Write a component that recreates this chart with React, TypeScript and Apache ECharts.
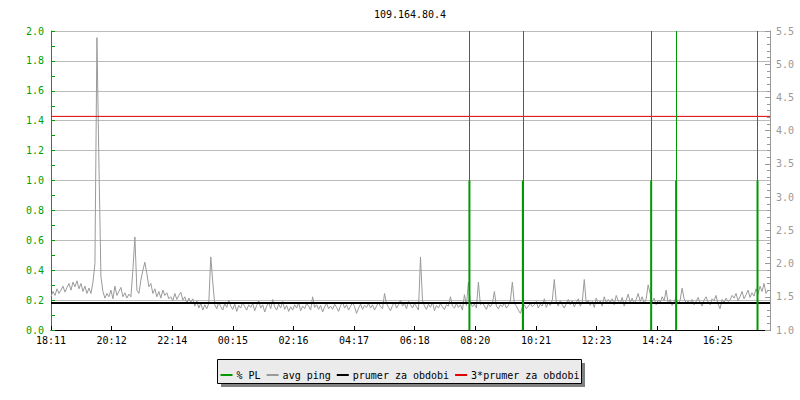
import React, { useEffect, useRef } from "react";
import * as echarts from "echarts";

const titleText = "109.164.80.4";
const timeLabels = ["18:11", "20:12", "22:14", "00:15", "02:16", "04:17", "06:18", "08:20", "10:21", "12:23", "14:24", "16:25"];
const tickStepMin = 121.4;
const spanMin = 1440;
const sampleStepMin = 4;

// avg ping (right axis), one sample every 4 minutes starting at 18:11
const pingValues = [
  1.50, 1.58, 1.52, 1.62, 1.55, 1.60, 1.66, 1.57, 1.64, 1.70, 1.60, 1.72, 1.65, 1.74, 1.62, 1.70, 1.58, 1.66, 1.55, 1.63,
  1.55, 1.72, 2.00, 5.40, 3.50, 1.80, 1.58, 1.48, 1.55, 1.50, 1.60, 1.47, 1.66, 1.52, 1.58, 1.64, 1.50, 1.56, 1.48, 1.54,
  1.50, 1.90, 2.40, 1.60, 1.55, 1.75, 1.90, 2.02, 1.85, 1.65, 1.70, 1.55, 1.62, 1.50, 1.58, 1.48, 1.60, 1.52, 1.56, 1.47,
  1.50, 1.44, 1.55, 1.46, 1.52, 1.57, 1.45, 1.50, 1.40, 1.48, 1.42, 1.47, 1.36, 1.44, 1.33, 1.40, 1.30, 1.38, 1.32, 1.40,
  2.10, 1.72, 1.38, 1.32, 1.42, 1.35, 1.30, 1.40, 1.34, 1.45, 1.36, 1.31, 1.39, 1.28, 1.37, 1.33, 1.42, 1.35, 1.30, 1.38,
  1.34, 1.40, 1.29, 1.37, 1.44, 1.33, 1.38, 1.27, 1.36, 1.41, 1.32, 1.46, 1.35, 1.30, 1.39, 1.33, 1.43, 1.31, 1.37, 1.28,
  1.35, 1.30, 1.38, 1.33, 1.41, 1.29, 1.36, 1.32, 1.40, 1.36, 1.30, 1.50, 1.34, 1.38, 1.31, 1.37, 1.27, 1.35, 1.40, 1.32,
  1.36, 1.31, 1.39, 1.34, 1.28, 1.37, 1.42, 1.33, 1.38, 1.30, 1.36, 1.41, 1.35, 1.25, 1.33, 1.39, 1.31, 1.37, 1.34, 1.40,
  1.33, 1.38, 1.30, 1.36, 1.42, 1.35, 1.32, 1.55, 1.40, 1.34, 1.29, 1.37, 1.42, 1.33, 1.38, 1.45, 1.36, 1.40, 1.32, 1.43,
  1.38, 1.33, 1.40, 1.35, 1.30, 2.10, 1.45, 1.36, 1.31, 1.39, 1.34, 1.42, 1.29, 1.37, 1.33, 1.40, 1.35, 1.31, 1.38, 1.36,
  1.50, 1.36, 1.33, 1.40, 1.34, 1.38, 1.30, 1.53, 1.37, 1.72, 1.41, 1.35, 1.39, 1.33, 1.72, 1.38, 1.42, 1.36, 1.31, 1.39,
  1.35, 1.40, 1.58, 1.36, 1.32, 1.38, 1.35, 1.41, 1.33, 1.37, 1.44, 1.72, 1.40, 1.36, 1.30, 1.25, 1.34, 1.38, 1.32, 1.36,
  1.40, 1.35, 1.38, 1.43, 1.33, 1.39, 1.36, 1.47, 1.34, 1.41, 1.37, 1.45, 1.76, 1.42, 1.36, 1.44, 1.38, 1.33, 1.40, 1.46,
  1.38, 1.44, 1.35, 1.41, 1.47, 1.36, 1.42, 1.76, 1.40, 1.45, 1.37, 1.43, 1.34, 1.48, 1.39, 1.44, 1.36, 1.50, 1.41, 1.46,
  1.42, 1.47, 1.38, 1.52, 1.44, 1.40, 1.49, 1.36, 1.45, 1.54, 1.41, 1.48, 1.39, 1.46, 1.55, 1.43, 1.50, 1.40, 1.47, 1.68,
  1.55, 1.42, 1.48, 1.38, 1.45, 1.41, 1.50, 1.44, 1.60, 1.40, 1.46, 1.37, 1.43, 1.49, 1.39, 1.45, 1.63, 1.47, 1.41, 1.44,
  1.40, 1.46, 1.38, 1.43, 1.49, 1.41, 1.36, 1.45, 1.50, 1.42, 1.38, 1.47, 1.44, 1.52, 1.39, 1.32, 1.46, 1.41, 1.48, 1.43,
  1.45, 1.52, 1.48, 1.55, 1.44, 1.50, 1.58, 1.47, 1.53, 1.60, 1.49, 1.56, 1.51, 1.62, 1.54, 1.66, 1.58, 1.70, 1.55, 1.60,
];

// packet loss events (minutes after 18:11) and values (left axis)
const plMinutes = [838, 945, 1202, 1252, 1415];
const plValues = [1.0, 1.0, 1.0, 1.0, 1.0];

const prumerValue = 1.405;
const prumer3Value = 4.215;

const legendNames = ["% PL", "avg ping", "prumer za obdobi", "3*prumer za obdobi"];

const FONT = "DejaVu Sans Mono";
const GREEN = "#00a000";
const PL_GREEN = "#009900";
const GREY = "#9a9a9a";

export default function App() {
  const ref = useRef<HTMLDivElement>(null);

  useEffect(() => {
    if (!ref.current) return;
    const chart = echarts.init(ref.current, undefined, { renderer: "svg" });

    const pingData = pingValues.map((v, i) => [i * sampleStepMin, v]);
    const plData = plMinutes.map((m, i) => [m, plValues[i]]);

    const option: any = {
      animation: false,
      backgroundColor: "#ffffff",
      grid: { left: 51, right: 30, top: 31, bottom: 70, containLabel: false },
      graphic: [
        {
          type: "text",
          x: 410,
          y: 14,
          style: {
            text: titleText,
            align: "center",
            verticalAlign: "middle",
            fontFamily: FONT,
            fontSize: 10,
            fill: "#000",
          },
        },
        {
          type: "rect",
          z: 1,
          shape: { x: 221, y: 363, width: 364, height: 24 },
          style: { fill: "#808080" },
        },
        {
          type: "rect",
          z: 2,
          shape: { x: 217.5, y: 359.5, width: 364, height: 24 },
          style: { fill: "#ebebeb", stroke: "#000", lineWidth: 1 },
        },
      ],
      legend: {
        data: legendNames,
        left: "center",
        top: 365,
        icon: "rect",
        itemWidth: 12,
        itemHeight: 2,
        itemGap: 6,
        selectedMode: false,
        z: 10,
        textStyle: { fontFamily: FONT, fontSize: 10, color: "#000", padding: [0, 0, 0, -1] },
      },
      xAxis: {
        type: "value",
        min: 0,
        max: spanMin,
        interval: tickStepMin,
        axisLine: { show: true, lineStyle: { color: "#000", width: 1 } },
        axisTick: { show: true, inside: true, length: 4, lineStyle: { color: "#000" } },
        axisLabel: {
          color: "#000",
          fontFamily: FONT,
          fontSize: 10,
          margin: 5,
          showMaxLabel: false,
          formatter: (v: number) => {
            const k = Math.round(v / tickStepMin);
            if (Math.abs(k * tickStepMin - v) > 0.01) return "";
            return timeLabels[k] ?? "";
          },
        },
        splitLine: { show: false },
      },
      yAxis: [
        {
          type: "value",
          position: "left",
          min: 0,
          max: 2,
          interval: 0.2,
          axisLine: { show: true, lineStyle: { color: GREEN, width: 1 } },
          axisTick: { show: true, inside: true, length: 4, lineStyle: { color: GREEN } },
          minorTick: { show: true, splitNumber: 2, length: 4, lineStyle: { color: GREEN } },
          axisLabel: {
            color: GREEN,
            fontFamily: FONT,
            fontSize: 10,
            margin: 7,
            formatter: (v: number) => v.toFixed(1),
          },
          splitLine: { show: true, lineStyle: { color: "#bbbbbb", width: 1 } },
        },
        {
          type: "value",
          position: "right",
          min: 1,
          max: 5.5,
          interval: 0.5,
          axisLine: { show: true, lineStyle: { color: "#999999", width: 1 } },
          axisTick: { show: true, inside: true, length: 5, lineStyle: { color: "#999999" } },
          minorTick: { show: true, splitNumber: 5, length: 3, lineStyle: { color: "#999999" } },
          axisLabel: {
            color: "#999999",
            fontFamily: FONT,
            fontSize: 10,
            margin: 6,
            formatter: (v: number) => v.toFixed(1),
          },
          splitLine: { show: false },
        },
      ],
      series: [
        {
          name: "% PL",
          type: "bar",
          xAxisIndex: 0,
          yAxisIndex: 0,
          data: plData,
          barWidth: 2,
          z: 6,
          itemStyle: { color: PL_GREEN },
          markLine: {
            silent: true,
            symbol: ["none", "none"],
            label: { show: false },
            lineStyle: { color: PL_GREEN, width: 1, type: "solid" },
            data: plMinutes.map((m) => ({ xAxis: m })),
          },
        },
        {
          name: "avg ping",
          type: "line",
          yAxisIndex: 1,
          data: pingData,
          showSymbol: false,
          symbol: "none",
          z: 2,
          lineStyle: { color: GREY, width: 1 },
          itemStyle: { color: GREY },
        },
        {
          name: "prumer za obdobi",
          type: "line",
          yAxisIndex: 1,
          data: [
            [0, prumerValue],
            [spanMin, prumerValue],
          ],
          showSymbol: false,
          symbol: "none",
          z: 4,
          lineStyle: { color: "#000000", width: 2 },
          itemStyle: { color: "#000000" },
        },
        {
          name: "3*prumer za obdobi",
          type: "line",
          yAxisIndex: 1,
          data: [
            [0, prumer3Value],
            [spanMin, prumer3Value],
          ],
          showSymbol: false,
          symbol: "none",
          z: 4,
          lineStyle: { color: "#e00000", width: 1 },
          itemStyle: { color: "#e00000" },
        },
      ],
    };

    chart.setOption(option);
    return () => chart.dispose();
  }, []);

  return (
    <div
      ref={ref}
      style={{ position: "absolute", left: 0, top: 0, width: 800, height: 400 }}
    />
  );
}
